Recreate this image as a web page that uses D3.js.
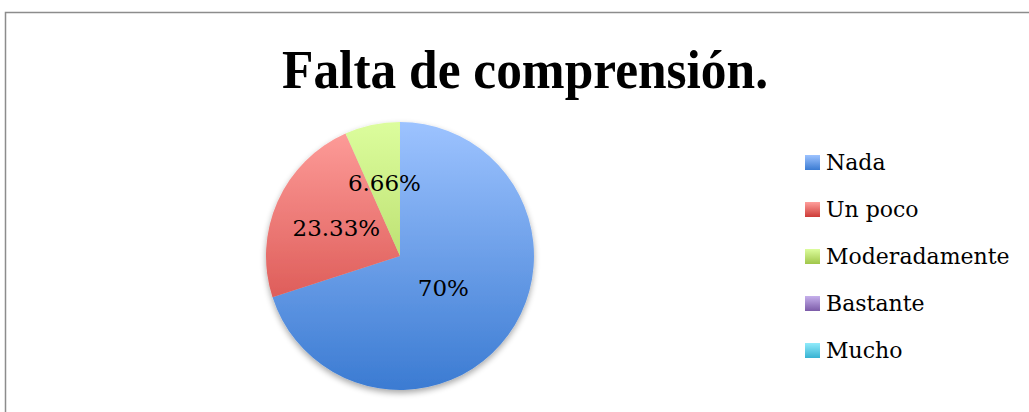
<!DOCTYPE html>
<html><head><meta charset="utf-8">
<script src="https://cdn.jsdelivr.net/npm/d3@7"></script>
<style>html,body{margin:0;padding:0;background:#fff;overflow:hidden}</style>
</head><body>
<svg id="c" width="1029" height="412"></svg>
<script>
const categories = ["Nada", "Un poco", "Moderadamente", "Bastante", "Mucho"];
const values = [70, 23.33, 6.66, 0, 0];
const labels = ["70%", "23.33%", "6.66%", "", ""];
const colorsTop = ["#9dc3ff", "#ff9f9c", "#dcfd9d", "#c6b0ec", "#91ebfb"];
const colorsBottom = ["#3b7bd2", "#cd3b37", "#a0c64a", "#7c5ba8", "#37b2d2"];
const title = "Falta de comprensión.";

const svg = d3.select("#c");
const defs = svg.append("defs");
const cx = 400, cy = 256, r = 134;

svg.append("rect").attr("x", 5.5).attr("y", 12.5).attr("width", 1040).attr("height", 420)
  .attr("fill", "#fff").attr("stroke", "#8c8c8c").attr("stroke-width", 1.5);

svg.append("text").attr("x", 525).attr("y", 88).attr("text-anchor", "middle")
  .attr("font-family", "Liberation Serif").attr("font-weight", "bold").attr("font-size", 54)
  .attr("textLength", 486).attr("lengthAdjust", "spacingAndGlyphs")
  .attr("fill", "#000").text(title);

categories.forEach((c, i) => {
  const g = defs.append("linearGradient").attr("id", "g" + i)
    .attr("x1", 0).attr("y1", 0).attr("x2", 0).attr("y2", 1);
  g.append("stop").attr("offset", "0%").attr("stop-color", colorsTop[i]);
  g.append("stop").attr("offset", "100%").attr("stop-color", colorsBottom[i]);
  const gp = defs.append("linearGradient").attr("id", "gp" + i)
    .attr("gradientUnits", "userSpaceOnUse")
    .attr("x1", 0).attr("y1", -r).attr("x2", 0).attr("y2", r);
  gp.append("stop").attr("offset", "0%").attr("stop-color", colorsTop[i]);
  gp.append("stop").attr("offset", "100%").attr("stop-color", colorsBottom[i]);
});

const f = defs.append("filter").attr("id", "sh").attr("x", "-20%").attr("y", "-20%").attr("width", "140%").attr("height", "140%");
f.append("feGaussianBlur").attr("in", "SourceAlpha").attr("stdDeviation", 3);
f.append("feOffset").attr("dx", 0).attr("dy", 3).attr("result", "b");
f.append("feComponentTransfer").append("feFuncA").attr("type", "linear").attr("slope", 0.35);
const m = f.append("feMerge"); m.append("feMergeNode"); m.append("feMergeNode").attr("in", "SourceGraphic");

const data = categories.map((c, i) => ({c, v: values[i], l: labels[i], i}));
const pie = d3.pie().sort(null).value(d => d.v);
const arcs = pie(data);
const arc = d3.arc().innerRadius(0).outerRadius(r);
const sg = svg.append("g").attr("filter", "url(#sh)");
sg.selectAll("path").data(arcs.filter(a => a.data.v > 0)).join("path")
  .attr("transform", `translate(${cx},${cy})`)
  .attr("d", arc).attr("fill", d => `url(#gp${d.data.i})`);

const labelR = [0.40, 0.52, 0.56, 0.5, 0.5];
svg.append("g").selectAll("text").data(arcs.filter(a => a.data.v > 0)).join("text")
  .attr("transform", d => {
    const rr = r * labelR[d.data.i];
    const a = (d.startAngle + d.endAngle) / 2;
    return `translate(${cx + rr * Math.sin(a)},${cy - rr * Math.cos(a)})`;
  })
  .attr("text-anchor", "middle").attr("dy", "0.36em")
  .attr("font-family", "DejaVu Serif").attr("font-size", 23).attr("fill", "#000")
  .text(d => d.data.l);

const y = d3.scalePoint().domain(categories).range([162, 350]);
const lg = svg.append("g");
categories.forEach((c, i) => {
  lg.append("rect").attr("x", 805).attr("y", y(c) - 7).attr("width", 15).attr("height", 15)
    .attr("fill", `url(#g${i})`);
  lg.append("text").attr("x", 826).attr("y", y(c)).attr("dy", "0.36em")
    .attr("font-family", "DejaVu Serif").attr("font-size", 22).attr("fill", "#000").text(c);
});
</script>
</body></html>
